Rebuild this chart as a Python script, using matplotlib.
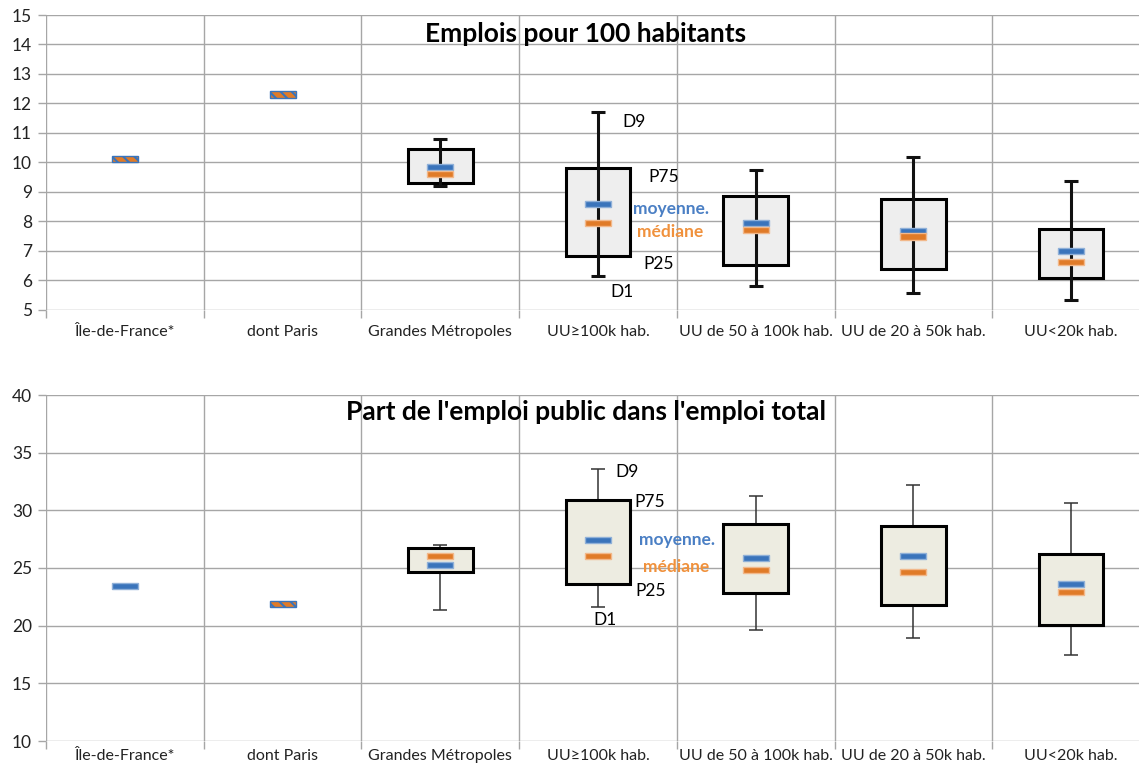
import numpy as np
import matplotlib
matplotlib.use("Agg")
import matplotlib.pyplot as plt
import matplotlib.transforms as mtransforms

plt.rcParams['font.family'] = ['Lato', 'DejaVu Sans']
plt.rcParams['hatch.linewidth'] = 1.5

categories = ["Île-de-France*", "dont Paris", "Grandes Métropoles", "UU≥100k hab.",
              "UU de 50 à 100k hab.", "UU de 20 à 50k hab.", "UU<20k hab."]

# Emplois pour 100 habitants
emp_d1 = [np.nan, np.nan, 9.20, 6.14, 5.80, 5.56, 5.32]
emp_p25 = [np.nan, np.nan, 9.31, 6.83, 6.51, 6.36, 6.07]
emp_p75 = [np.nan, np.nan, 10.44, 9.79, 8.85, 8.75, 7.72]
emp_d9 = [np.nan, np.nan, 10.78, 11.70, 9.74, 10.19, 9.35]
emp_mean = [10.1, 12.3, 9.83, 8.57, 7.94, 7.67, 7.00]
emp_median = [10.1, 12.3, 9.61, 7.95, 7.69, 7.48, 6.60]

# Part de l'emploi public dans l'emploi total
pub_d1 = [np.nan, np.nan, 21.35, 21.64, 19.59, 18.92, 17.42]
pub_p25 = [np.nan, np.nan, 24.62, 23.58, 22.80, 21.76, 20.05]
pub_p75 = [np.nan, np.nan, 26.76, 30.89, 28.81, 28.64, 26.21]
pub_d9 = [np.nan, np.nan, 26.99, 33.61, 31.21, 32.22, 30.66]
pub_mean = [23.46, 21.85, 25.23, 27.40, 25.89, 26.06, 23.58]
pub_median = [np.nan, 21.85, 26.02, 26.01, 24.85, 24.63, 22.91]

BLUE = "#3a74bb"
ORANGE = "#e07b28"
W, H = 1139, 771
fig = plt.figure(figsize=(W / 100, H / 100), dpi=100)

def px_axes(left, top, right, bottom):
    return fig.add_axes([left / W, 1 - bottom / H, (right - left) / W, (bottom - top) / H])

ax1 = px_axes(46, 15, 1150, 309.5)
ax2 = px_axes(46, 395, 1150, 741)


def draw(ax, d1, p25, p75, d9, mean, median, ylim, yticks, box_fc, whisk_lw, whisk_col, whisk_front,
         mark_h, title, title_y, lab_pad):
    n = len(categories)
    x = np.arange(n) + 0.5
    ax.set_xlim(0, n)
    ax.set_ylim(*ylim)
    ax.set_yticks(yticks)
    ax.set_xticks(np.arange(n + 1))
    ax.set_xticklabels([])
    ax.set_xticks(x, minor=True)
    ax.set_xticklabels(categories, minor=True)
    ax.tick_params(axis='x', which='major', length=6, color="#a6a6a6", width=1)
    ax.tick_params(axis='x', which='minor', length=0, pad=lab_pad, labelsize=11.5, labelcolor="#222222")
    ax.tick_params(axis='y', length=6, color="#a6a6a6", width=1, labelsize=12.5, labelcolor="#222222", pad=4)
    ax.grid(True, which='major', color="#a6a6a6", lw=1)
    ax.set_axisbelow(True)
    for s in ax.spines.values():
        s.set_visible(False)
    d1, p25, p75, d9 = map(np.asarray, (d1, p25, p75, d9))
    mean = np.asarray(mean, float)
    median = np.asarray(median, float)
    ok = ~np.isnan(p25)
    ax.bar(x[ok], (p75 - p25)[ok], bottom=p25[ok], width=0.41, facecolor=box_fc,
           edgecolor="black", lw=2.2, zorder=2)
    zw = 3 if whisk_front else 1.5
    ax.errorbar(x[ok], ((d1 + d9) / 2)[ok], yerr=((d9 - d1) / 2)[ok], fmt='none',
                ecolor=whisk_col, elinewidth=whisk_lw, capsize=5, capthick=whisk_lw, zorder=zw)
    bw = 0.165
    same = np.isclose(mean, median)
    for i in range(n):
        if same[i]:
            ax.bar(x[i], mark_h, bottom=median[i] - mark_h / 2, width=bw, facecolor=ORANGE,
                   edgecolor=BLUE, lw=1, hatch="\\\\\\", zorder=4)
            continue
        if not np.isnan(mean[i]):
            ax.bar(x[i], mark_h, bottom=mean[i] - mark_h / 2, width=bw, facecolor=BLUE,
                   edgecolor="#8fb0d8", lw=1, zorder=4)
        if not np.isnan(median[i]):
            ax.bar(x[i], mark_h, bottom=median[i] - mark_h / 2, width=bw, facecolor=ORANGE,
                   edgecolor="#f2b88a", lw=1, zorder=4)
    trans = mtransforms.blended_transform_factory(ax.transData, ax.transAxes)
    ax.text(3.424, title_y, title, transform=trans,
            ha='center', va='top', fontsize=19, fontweight='bold', color="black", zorder=6)


draw(ax1, emp_d1, emp_p25, emp_p75, emp_d9, emp_mean, emp_median, (5, 15), np.arange(5, 16, 1),
     "#eeeeee", 2.2, "#111111", True, 0.21, "Emplois pour 100 habitants", 0.975, 11.5)
draw(ax2, pub_d1, pub_p25, pub_p75, pub_d9, pub_mean, pub_median, (10, 40), np.arange(10, 41, 5),
     "#edece1", 1.1, "#333333", False, 0.54, "Part de l'emploi public dans l'emploi total", 0.985, 6)

lab_kw = dict(fontsize=12.5, va='center', ha='left', zorder=6)
for ax, pos in ((ax1, [(3.652, 11.38, "D9"), (3.818, 9.51, "P75"), (3.785, 6.55, "P25"), (3.576, 5.60, "D1")]),
                (ax2, [(3.608, 33.3, "D9"), (3.729, 30.72, "P75"), (3.735, 23.0, "P25"), (3.469, 20.49, "D1")])):
    for xx, yy, t in pos:
        ax.text(xx, yy, t, color="black", **lab_kw)
ax1.text(3.722, 8.41, "moyenne.", color="#4a7fc4", fontweight='bold', **lab_kw)
ax1.text(3.748, 7.64, "médiane", color="#f0913c", fontweight='bold', **lab_kw)
ax2.text(3.76, 27.42, "moyenne.", color="#4a7fc4", fontweight='bold', **lab_kw)
ax2.text(3.785, 25.11, "médiane", color="#f0913c", fontweight='bold', **lab_kw)

fig.savefig("out.png", dpi=100)
